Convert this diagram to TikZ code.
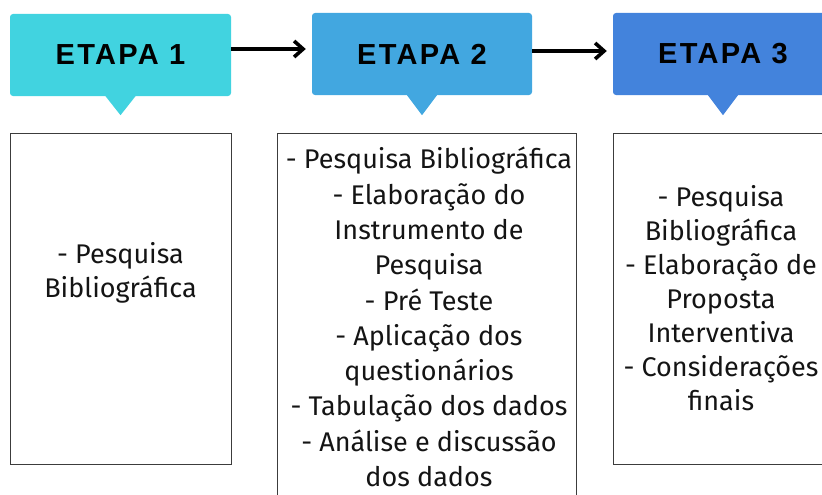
\documentclass[tikz,border=0pt]{standalone}
\usepackage{fontspec}
\setmainfont{Fira Sans}
\newfontfamily\hfont[LetterSpace=8]{Liberation Sans}
\usetikzlibrary{arrows.meta}
\definecolor{cA}{RGB}{65,211,224}
\definecolor{cB}{RGB}{66,167,224}
\definecolor{cC}{RGB}{67,131,220}
\definecolor{bord}{RGB}{60,60,60}
\tikzset{
  hdr/.style={rounded corners=3pt, minimum height=82pt, inner sep=0pt,
    font=\hfont\bfseries\fontsize{29}{32}\selectfont, text=black},
  content/.style={draw=bord, line width=0.9pt, inner sep=0pt},
  body/.style={align=center, inner sep=0pt, font=\fontsize{27}{35.3}\selectfont, text=black!92},
  bodytight/.style={body, font=\fontsize{27}{34}\selectfont},
  flow/.style={line width=3.6pt, -{Straight Barb[length=9pt,width=16pt,line width=3.6pt]}}
}
\begin{document}
\begin{tikzpicture}[x=1pt,y=-1pt]
\useasboundingbox (0,0) rectangle (822,495);
% headers
\node[hdr, fill=cA, minimum width=221pt] (h1) at (120.5,55) {ETAPA 1};
\node[hdr, fill=cB, minimum width=220pt] (h2) at (422,54) {ETAPA 2};
\node[hdr, fill=cC, minimum width=220pt] (h3) at (723,54) {ETAPA 3};
% pointers
\fill[cA] ([xshift=-15pt]h1.south) -- ([xshift=15pt]h1.south) -- ([yshift=-19pt]h1.south) -- cycle;
\fill[cB] ([xshift=-15pt]h2.south) -- ([xshift=15pt]h2.south) -- ([yshift=-20pt]h2.south) -- cycle;
\fill[cC] ([xshift=-15pt]h3.south) -- ([xshift=15pt]h3.south) -- ([yshift=-20pt]h3.south) -- cycle;
% arrows
\draw[flow] ([yshift=6pt]h1.east) -- ([xshift=-6pt,yshift=5pt]h2.west);
\draw[flow] ([yshift=3pt]h2.east) -- ([xshift=-6pt,yshift=3pt]h3.west);
% content boxes
\node[content, minimum width=221pt, minimum height=331pt] (b1) at (120.5,298.5) {};
\node[content, minimum width=299pt, minimum height=380pt] (b2) at (426.5,323) {};
\node[content, minimum width=218pt, minimum height=331pt] (b3) at (722,298.5) {};
% texts
\node[bodytight] (t1) at (120.5,273) {- Pesquisa\\Bibliográfica};
\node[body] (t2) at (429,317) {- Pesquisa Bibliográfica\\- Elaboração do\\Instrumento de\\Pesquisa\\- Pré Teste\\- Aplicação dos\\questionários\\- Tabulação dos dados\\- Análise e discussão\\dos dados};
\node[bodytight] (t3) at (721,298) {- Pesquisa\\Bibliográfica\\- Elaboração de\\Proposta\\Interventiva\\- Considerações\\finais};
\end{tikzpicture}
\end{document}
